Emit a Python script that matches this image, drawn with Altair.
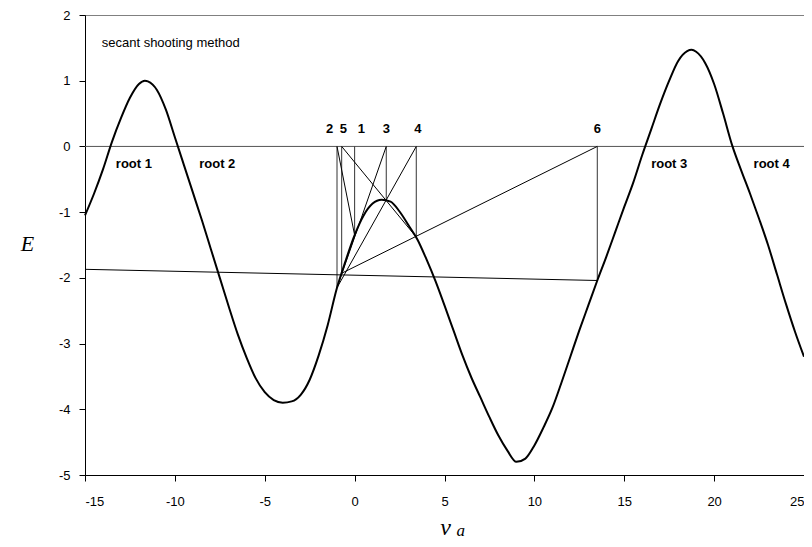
import altair as alt
import pandas as pd

# ---- main curve E(v_a) ----
va = [-15, -14.5, -14, -13.5, -13, -12.5, -12, -11.67, -11.5, -11, -10.5, -10, -9.5, -9, -8.5, -8,
      -7.5, -7, -6.5, -6, -5.5, -5, -4.5, -4, -3.5, -3, -2.5, -2, -1.5, -1, -0.5, 0, 0.5, 1, 1.5,
      2, 2.5, 3, 3.5, 4, 4.5, 5, 5.5, 6, 6.5, 7, 7.5, 8, 8.5, 9, 9.5, 10, 10.5, 11, 11.5, 12, 12.5,
      13, 13.5, 14, 14.5, 15, 15.5, 16, 16.5, 17, 17.5, 18, 18.5, 18.75, 19, 19.5, 20, 20.5, 21,
      21.5, 22, 22.5, 23, 23.5, 24, 24.5, 25]
E = [-1.05, -0.72, -0.35, 0.07, 0.43, 0.74, 0.95, 1.0, 0.99, 0.86, 0.56, 0.14, -0.28, -0.7, -1.12, -1.56,
     -2.0, -2.44, -2.86, -3.22, -3.53, -3.74, -3.86, -3.9, -3.88, -3.78, -3.55, -3.18, -2.72, -2.17, -1.74, -1.35, -1.05, -0.87, -0.81,
     -0.84, -0.99, -1.2, -1.42, -1.72, -2.05, -2.42, -2.8, -3.18, -3.52, -3.82, -4.12, -4.4, -4.63, -4.8, -4.75, -4.55, -4.28, -3.98, -3.6, -3.2, -2.8,
     -2.42, -2.04, -1.68, -1.3, -0.92, -0.55, -0.13, 0.26, 0.65, 1.0, 1.3, 1.45, 1.47, 1.44, 1.27, 0.95, 0.5, 0.02,
     -0.36, -0.72, -1.1, -1.5, -1.95, -2.4, -2.82, -3.2]

# ---- secant iterates ----
iter_labels = ["1", "2", "3", "4", "5", "6"]
iter_x = [0, -0.98, 1.76, 3.43, -0.72, 13.5]
iter_E = [-1.35, -2.15, -0.82, -1.38, -1.93, -2.04]
label_x = [0.37, -1.39, 1.76, 3.52, -0.63, 13.5]

# secant line segments (start x, start E, end x, end E)
seg_x1 = [-0.98, 1.76, 3.43, -0.72, 13.5, -15]
seg_y1 = [0, 0, 0, 0, 0, -1.87]
seg_x2 = [0, -0.98, -0.98, 3.43, -0.72, 13.5]
seg_y2 = [-1.35, -2.15, -2.15, -1.38, -1.93, -2.04]

root_labels = ["root 1", "root 2", "root 3", "root 4"]
root_x = [-12.28, -7.64, 17.5, 23.2]

x_ticks = [-15, -10, -5, 0, 5, 10, 15, 20, 25]
y_ticks = [-5, -4, -3, -2, -1, 0, 1, 2]

curve_df = pd.DataFrame({"x": va, "y": E})
vert_df = pd.DataFrame({"x": iter_x, "y": [0] * len(iter_x), "y2": iter_E})
seg_df = pd.DataFrame({"x": seg_x1, "y": seg_y1, "x2": seg_x2, "y2": seg_y2})
lab_df = pd.DataFrame({"x": label_x, "y": [0.26] * len(label_x), "t": iter_labels})
root_df = pd.DataFrame({"x": root_x, "y": [-0.27] * len(root_x), "t": root_labels})
zero_df = pd.DataFrame({"x": [-15], "y": [0], "x2": [25]})
title_df = pd.DataFrame({"x": [-14.07], "y": [1.57], "t": ["secant shooting method"]})
sub_df = pd.DataFrame({"x": [5.9], "y": [-5], "t": ["a"]})

xs = alt.Scale(domain=[-15, 25], nice=False, zero=False)
ys = alt.Scale(domain=[-5, 2], nice=False, zero=False)

common = dict(grid=False, domainColor="black", tickColor="black", labelColor="black",
              labelFont="Liberation Sans", labelFontSize=13, tickSize=6, domainWidth=1,
              titleColor="black")

x_axis = alt.Axis(values=x_ticks, title="v", labelExpr="'' + datum.value", labelPadding=14,
                  titleFont="Liberation Serif", titleFontStyle="italic",
                  titleFontWeight="normal", titleFontSize=24,
                  titleX=360, titleY=52, titleBaseline="middle", **common)
y_axis = alt.Axis(values=y_ticks, title="E", labelExpr="'' + datum.value", labelPadding=9,
                  titleFont="Liberation Serif", titleFontStyle="italic",
                  titleFontWeight="normal", titleFontSize=22, titleAngle=0,
                  titleX=-58, titleY=228, titleAlign="center", titleBaseline="middle", **common)


def X():
    return alt.X("x:Q", scale=xs, axis=x_axis)


def Y():
    return alt.Y("y:Q", scale=ys, axis=y_axis)


curve = alt.Chart(curve_df).mark_line(color="black", strokeWidth=2, interpolate="monotone").encode(
    x=X(), y=Y())

zero = alt.Chart(zero_df).mark_rule(color="#555555", strokeWidth=1).encode(
    x=X(), x2="x2:Q", y=Y())

verts = alt.Chart(vert_df).mark_rule(color="#333333", strokeWidth=1).encode(
    x=X(), y=Y(), y2="y2:Q")

segs = alt.Chart(seg_df).mark_rule(color="black", strokeWidth=1).encode(
    x=X(), y=Y(), x2="x2:Q", y2="y2:Q")

labs = alt.Chart(lab_df).mark_text(font="Liberation Sans", fontWeight="bold", fontSize=13,
                                   color="black", baseline="middle", align="center").encode(
    x=X(), y=Y(), text="t:N")

roots = alt.Chart(root_df).mark_text(font="Liberation Sans", fontWeight="bold", fontSize=13,
                                     color="black", baseline="middle", align="center").encode(
    x=X(), y=Y(), text="t:N")

ttl = alt.Chart(title_df).mark_text(font="Liberation Sans", fontSize=13, color="black",
                                    baseline="middle", align="left").encode(
    x=X(), y=Y(), text="t:N")

sub = alt.Chart(sub_df).mark_text(font="Liberation Serif", fontStyle="italic", fontSize=17,
                                  color="black", baseline="middle", align="center", dy=56).encode(
    x=X(), y=Y(), text="t:N")

chart = alt.layer(zero, verts, segs, curve, labs, roots, ttl, sub).properties(
    width=719, height=460,
    background="white",
    autosize=alt.AutoSizeParams(type="none"),
    padding={"left": 77, "top": 7, "right": 0, "bottom": 64},
).configure_view(stroke="#808080", strokeWidth=1)

chart.save("out.html", embed_options={"renderer": "svg", "actions": False})
